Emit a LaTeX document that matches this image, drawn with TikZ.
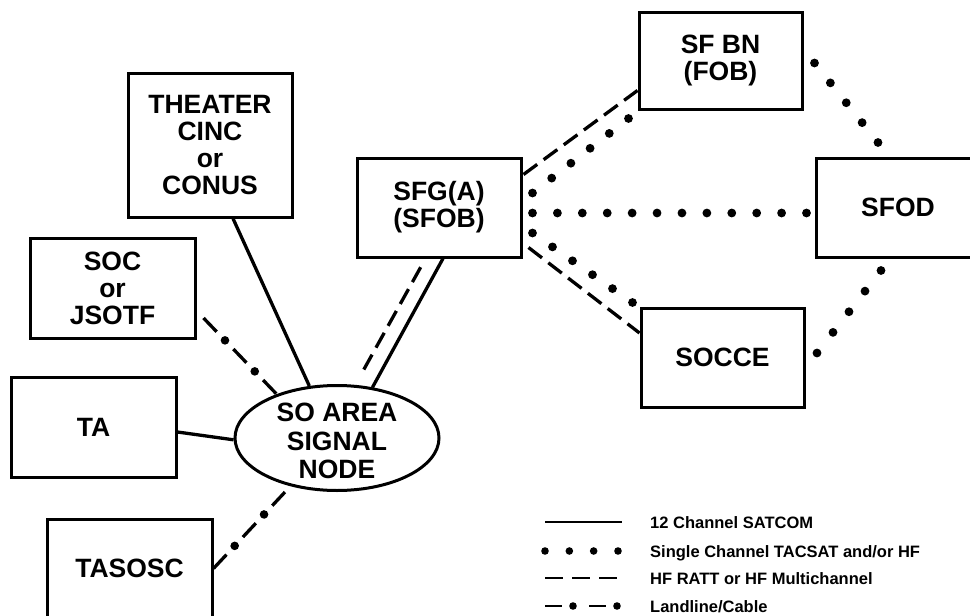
\documentclass[tikz,border=0pt]{standalone}
\usepackage{fontspec}
\setmainfont{Liberation Sans}
\usetikzlibrary{shapes.geometric,calc,decorations.markings}
\newcommand\dotlink[4]{\foreach \k in {0,...,#3}{\fill ($(#1)!{\k/#3}!(#2)$) circle (#4);}}
\begin{document}
\begin{tikzpicture}[x=1pt,y=-1pt,
  nodefont/.style={font=\bfseries\fontsize{26.5}{27}\selectfont},
  box/.style={draw, line width=3pt, rectangle, inner sep=0pt, align=center, nodefont},
  satline/.style={line width=3.3pt},
  hfline/.style={line width=3.3pt, dash pattern=on 17pt off 8pt},
  landline/.style={line width=3.3pt, dash pattern=on 19pt off 24pt,
    postaction={decorate, decoration={markings,
      mark=between positions 31pt and 1 step 43pt with {\fill (0,0) circle (4.3pt);}}}},
  landleg/.style={line width=2.7pt, dash pattern=on 17pt off 27pt,
    postaction={decorate, decoration={markings,
      mark=between positions 28pt and 1 step 44pt with {\fill (0,0) circle (3.8pt);}}}},
  legtext/.style={anchor=base west, inner sep=0pt, font=\bfseries\fontsize{16.5}{18}\selectfont}
]
\useasboundingbox (0,0) rectangle (970,616);
\fill[white] (0,0) rectangle (970,616);
\clip (0,0) rectangle (970,616);

% nodes
\node[box, minimum width=164pt, minimum height=144pt] (theater) at (210,145) {THEATER\\CINC\\or\\CONUS};
\node[box, minimum width=165pt, minimum height=100pt] (soc) at (112.5,288) {SOC\\or\\JSOTF};
\node[box, minimum width=165pt, minimum height=100pt] (ta) at (93.5,427) {TA};
\node[box, minimum width=165pt, minimum height=99pt] (tasosc) at (129.5,568.5) {TASOSC};
\node[box, minimum width=164pt, minimum height=99pt] (sfg) at (439,207.5) {SFG(A)\\(SFOB)};
\node[box, minimum width=163pt, minimum height=97pt] (sfbn) at (720.5,60.5) {SF BN\\(FOB)};
\node[box, minimum width=164pt, minimum height=99pt] (sfod) at (898,207.5) {SFOD};
\node[box, minimum width=163pt, minimum height=99pt] (socce) at (722.5,357.5) {SOCCE};
\node[draw, ellipse, line width=3pt, minimum width=204pt, minimum height=105pt, inner sep=0pt] (ell) at (337,438) {};
\node[nodefont, align=center, inner sep=0pt, font=\bfseries\fontsize{26.5}{28.5}\selectfont] (elltext) at (337,441) {SO AREA\\SIGNAL\\NODE};

% connectors to the signal node
\draw[satline] ($(theater.south)+(23,0)$) -- (ell.118);
\draw[landline] ($(soc.east)+(7,30)$) -- (ell.144);
\draw[satline] ($(ta.east)+(0,5)$) -- (ell.181);
\draw[landline] (tasosc.east) -- ($(ell.226)!8pt!(tasosc.east)$);
\draw[satline] ($(sfg.south)+(4,0)$) -- (ell.55);
\draw[hfline, shorten <=10pt, shorten >=10pt] ($(sfg.south)+(-13.5,0)$) -- (ell.71);

% SFG links (dashed)
\draw[hfline] ($(sfg.north east)+(1,18)$) -- ($(sfbn.south west)+(0,-20)$);
\draw[hfline] ($(sfg.south east)+(6,-11)$) -- ($(socce.west)+(0,-24.5)$);

% dotted links: end points
\coordinate (d1a) at ($(sfg.east)+(10,-14.5)$);  \coordinate (d1b) at ($(sfbn.south west)+(-9,8)$);
\coordinate (d2a) at ($(sfg.east)+(10,5.5)$);    \coordinate (d2b) at ($(sfod.west)+(-8,5.5)$);
\coordinate (d3a) at ($(sfg.east)+(10,25.5)$);   \coordinate (d3b) at ($(socce.north west)+(-7,-4)$);
\coordinate (d4a) at ($(sfbn.east)+(11,2.5)$);   \coordinate (d4b) at ($(sfod.north)+(-20,-14)$);
\coordinate (d5a) at ($(sfod.south)+(-17,12)$);  \coordinate (d5b) at ($(socce.east)+(11.5,-4.5)$);
\dotlink{d1a}{d1b}{5}{4.4pt}
\dotlink{d2a}{d2b}{11}{4.4pt}
\dotlink{d3a}{d3b}{5}{4.4pt}
\dotlink{d4a}{d4b}{4}{4.4pt}
\dotlink{d5a}{d5b}{4}{4.4pt}

% legend
\coordinate (l1a) at (545,522); \coordinate (l1b) at (622,522);
\coordinate (l2a) at (545,551); \coordinate (l2b) at (618,551);
\coordinate (l3a) at (545,578); \coordinate (l3b) at (617,578);
\coordinate (l4a) at (545,606); \coordinate (l4b) at (620,606);
\draw[line width=2.7pt] (l1a) -- (l1b);
\dotlink{l2a}{l2b}{3}{3.8pt}
\draw[line width=2.7pt, dash pattern=on 18pt off 9pt] (l3a) -- (l3b);
\draw[landleg] (l4a) -- (l4b);
\node[legtext] (t1) at (650,528) {12 Channel SATCOM};
\node[legtext] (t2) at (650,557) {Single Channel TACSAT and/or HF};
\node[legtext] (t3) at (650,584) {HF RATT or HF Multichannel};
\node[legtext] (t4) at (650,612) {Landline/Cable};
\end{tikzpicture}
\end{document}
